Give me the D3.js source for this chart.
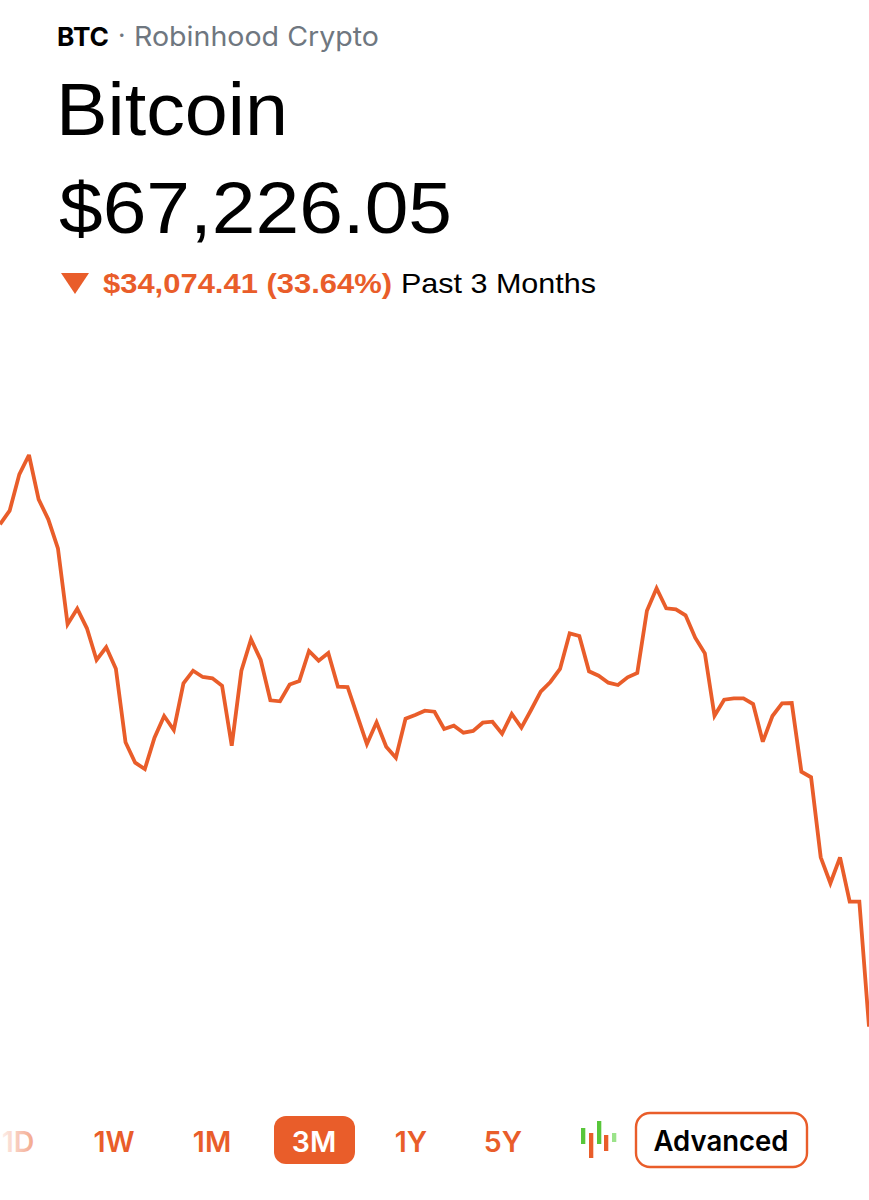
<!DOCTYPE html>
<html><head><meta charset="utf-8">
<script src="https://cdn.jsdelivr.net/npm/d3@7"></script>
<style>html,body{margin:0;padding:0;background:#fff}svg{display:block}</style>
</head><body><div id="c"></div>
<script>
const prices = [101300,102222,104691,106000,102996,101639,99672,94518,95576,94247,
92097,92958,91507,86515,85132,84704,86827,88299,87349,90517,
91371,90944,90856,90354,86285,91371,93501,92097,89364,89296,
90429,90673,92707,92049,92572,90286,90266,88319,86400,87872,
86217,85471,88116,88367,88658,88590,87417,87641,87166,87282,
87845,87912,87098,88435,87505,88706,89947,90605,91486,93908,
93724,91330,91032,90557,90401,90924,91215,95440,96960,95603,
95535,95128,93609,92551,88319,89404,89499,89499,89113,86556,
88299,89160,89180,84521,84142,78716,76953,78716,75705,75705,67226];
const ranges = ["1D","1W","1M","3M","1Y","5Y"];
const activeRange = "3M";
const ORANGE = "#E95D2A";
const W = 869, H = 1200;
const HELV = "'Liberation Sans', Arial, sans-serif";
const UI = "Inter, Roboto, sans-serif";

const svg = d3.select("#c").append("svg").attr("width", W).attr("height", H);
const defs = svg.append("defs");
const grad = defs.append("linearGradient").attr("id","fade").attr("x1","0").attr("x2","1").attr("y1","0").attr("y2","0");
grad.append("stop").attr("offset","0").attr("stop-color",ORANGE).attr("stop-opacity",0.1);
grad.append("stop").attr("offset","1").attr("stop-color",ORANGE).attr("stop-opacity",0.55);

const x = d3.scaleLinear().domain([0, prices.length - 1]).range([0, 869]);
const y = d3.scaleLinear().domain([67226.05, 101300.46]).range([1026.7, 524.3]);
const line = d3.line().x((d,i)=>x(i)).y(d=>y(d)).curve(d3.curveLinear);
svg.append("path").datum(prices).attr("d", line).attr("fill","none")
  .attr("stroke",ORANGE).attr("stroke-width",3.8).attr("stroke-linejoin","miter").attr("stroke-miterlimit",3);

function t(txt,px,py,size,fam,weight,fill,anchor){
  return svg.append("text").attr("x",px).attr("y",py).attr("font-size",size).attr("font-family",fam)
    .attr("font-weight",weight).attr("fill",fill).attr("text-anchor",anchor||"start").text(txt);
}
function fit(sel,len){ return sel.attr("textLength",len).attr("lengthAdjust","spacingAndGlyphs"); }
fit(t("BTC",57,46,26,UI,700,"#000"),52);
t("·",118,44,26,UI,400,"#6f7780");
fit(t("Robinhood Crypto",134,46,27,UI,400,"#6f7780"),245);
fit(t("Bitcoin",56,135,75,HELV,400,"#000"),232);
fit(t("$67,226.05",59,233,72,HELV,400,"#000"),393);
svg.append("path").attr("d",d3.line()([[61,273],[89,273],[75,294]])+"Z").attr("fill",ORANGE);
fit(t("$34,074.41 (33.64%)",103,293,28,HELV,700,ORANGE),289);
fit(t("Past 3 Months",401,293,28,HELV,400,"#000"),195);

const labelX = {"1D":18,"1W":114,"1M":212,"3M":314,"1Y":411,"5Y":503};
svg.append("rect").attr("x",274).attr("y",1116).attr("width",81).attr("height",48).attr("rx",12).attr("fill",ORANGE);
svg.selectAll("text.range").data(ranges).join("text").attr("class","range")
  .attr("x",d=>labelX[d]).attr("y",1152).attr("text-anchor","middle")
  .attr("font-family",UI).attr("font-weight",600).attr("font-size",28.5)
  .attr("fill",d=>d===activeRange?"#fff":d==="1D"?"url(#fade)":ORANGE).text(d=>d);

const candleColors = ["#58c63a",ORANGE,"#58c63a",ORANGE,"#9be38a"];
const candleX = [581,589,597,604,612];
const candleTop = [1128,1133,1121,1135,1133];
const candleH = [16,25,23,16,9];
svg.selectAll("rect.candle").data(candleColors).join("rect").attr("class","candle")
  .attr("x",(d,i)=>candleX[i]).attr("y",(d,i)=>candleTop[i]).attr("width",4.3).attr("height",(d,i)=>candleH[i]).attr("fill",d=>d);

svg.append("rect").attr("x",636).attr("y",1113).attr("width",171).attr("height",54).attr("rx",14)
  .attr("fill","#fff").attr("stroke",ORANGE).attr("stroke-width",2.4);
fit(t("Advanced",721,1151,28,UI,600,"#000","middle"),135);
</script></body></html>
